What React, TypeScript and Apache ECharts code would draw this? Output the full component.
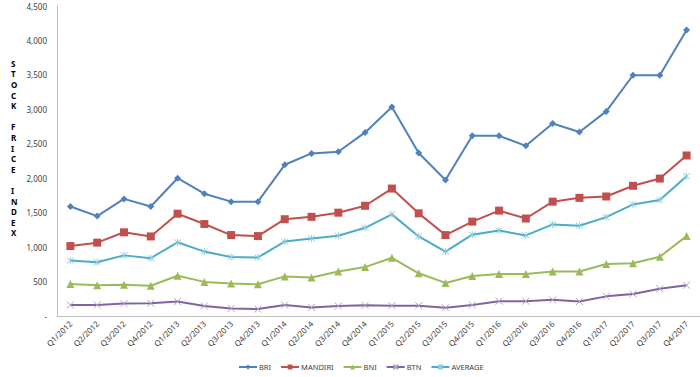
import React, { useEffect, useRef } from "react";
import * as echarts from "echarts";

const categories = [
  "Q1/2012", "Q2/2012", "Q3/2012", "Q4/2012",
  "Q1/2013", "Q2/2013", "Q3/2013", "Q4/2013",
  "Q1/2014", "Q2/2014", "Q3/2014", "Q4/2014",
  "Q1/2015", "Q2/2015", "Q3/2015", "Q4/2015",
  "Q1/2016", "Q2/2016", "Q3/2016", "Q4/2016",
  "Q1/2017", "Q2/2017", "Q3/2017", "Q4/2017",
];

const bri = [1590, 1450, 1700, 1590, 2000, 1775, 1660, 1660, 2195, 2360, 2385, 2665, 3035, 2365, 1975, 2615, 2615, 2470, 2795, 2670, 2970, 3495, 3495, 4150];
const mandiri = [1015, 1065, 1215, 1155, 1485, 1335, 1175, 1160, 1405, 1440, 1500, 1600, 1850, 1490, 1175, 1370, 1530, 1415, 1660, 1715, 1735, 1890, 1995, 2330];
const bni = [465, 445, 455, 440, 585, 495, 470, 460, 575, 560, 645, 710, 845, 620, 480, 580, 610, 610, 645, 645, 755, 765, 860, 1160];
const btn = [160, 160, 180, 185, 210, 145, 110, 100, 160, 125, 145, 155, 150, 150, 120, 160, 215, 215, 235, 210, 285, 320, 395, 445];
const average = [805, 780, 880, 840, 1070, 935, 855, 850, 1080, 1125, 1165, 1280, 1475, 1155, 935, 1180, 1240, 1170, 1330, 1310, 1435, 1620, 1685, 2030];

const seriesNames = ["BRI", "MANDIRI", "BNI", "BTN", "AVERAGE"];

const yTitle = "S\nT\nO\nC\nK\n\nF\nR\nI\nC\nE\n\nI\nN\nD\nE\nX";

const FONT = "'Noto Sans', 'Liberation Sans', sans-serif";

const X_SYMBOL = "path://M0,0L10,10M10,0L0,10";
const STAR_SYMBOL = "path://M0,0L10,10M10,0L0,10M5,-1L5,11";

export default function App() {
  const ref = useRef<HTMLDivElement>(null);
  useEffect(() => {
    if (!ref.current) return;
    const chart = echarts.init(ref.current, undefined, { renderer: "svg" });
    const mk = (name: string, data: number[], color: string, symbol: string, size: number, item: any = {}) => ({
      name,
      type: "line",
      data,
      symbol,
      symbolSize: size,
      lineStyle: { color, width: 2 },
      itemStyle: { color, ...item },
      emphasis: { disabled: true },
    });
    chart.setOption({
      animation: false,
      textStyle: { fontFamily: FONT },
      grid: { left: 57, top: 6, width: 646, height: 310 },
      xAxis: {
        type: "category",
        data: categories,
        boundaryGap: true,
        axisLine: { lineStyle: { color: "#BFBFBF", width: 1 } },
        axisTick: { show: false },
        axisLabel: { rotate: 45, fontSize: 8, color: "#404040", margin: 6, fontFamily: FONT, interval: 0 },
        splitLine: { show: false },
      },
      yAxis: {
        type: "value",
        min: 0,
        max: 4500,
        interval: 500,
        axisLine: { show: true, lineStyle: { color: "#BFBFBF", width: 1 } },
        axisTick: { show: false },
        splitLine: { show: false },
        axisLabel: {
          fontSize: 8,
          color: "#404040",
          margin: 10,
          fontFamily: FONT,
          formatter: (v: number) => (v === 0 ? "-" : v.toLocaleString("en-US")),
        },
      },
      legend: {
        data: seriesNames,
        left: 238,
        top: 363,
        padding: 0,
        itemWidth: 18,
        itemHeight: 6,
        itemGap: 9,
        textStyle: { fontSize: 7.5, color: "#404040", fontFamily: FONT, padding: [0, 0, 0, -3] },
      },
      graphic: [
        {
          type: "text",
          left: 11,
          top: 58,
          style: {
            text: yTitle,
            fontSize: 8,
            fontWeight: "bold",
            lineHeight: 10.6,
            fill: "#000",
            align: "center",
            fontFamily: FONT,
          },
        },
      ],
      series: [
        mk("BRI", bri, "#4F81BD", "diamond", 7),
        mk("MANDIRI", mandiri, "#C0504D", "rect", 8),
        mk("BNI", bni, "#9BBB59", "triangle", 8),
        mk("BTN", btn, "#8064A2", X_SYMBOL, 7, { borderColor: "#B3A2C7", borderWidth: 1 }),
        mk("AVERAGE", average, "#4BACC6", STAR_SYMBOL, 7, { borderColor: "#93CDDD", borderWidth: 1 }),
      ],
    });
    return () => chart.dispose();
  }, []);
  return (
    <div
      ref={ref}
      style={{ position: "fixed", left: 0, top: 0, width: 700, height: 377, background: "#fff" }}
    />
  );
}
